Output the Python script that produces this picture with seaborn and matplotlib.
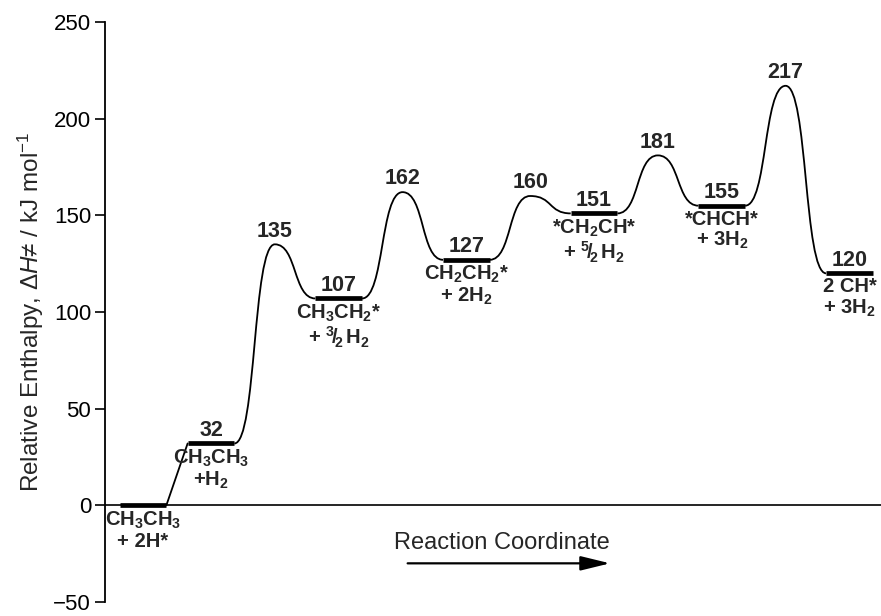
import numpy as np
import pandas as pd
import matplotlib
matplotlib.use("Agg")
import matplotlib.pyplot as plt
import seaborn as sns
from matplotlib.path import Path
from matplotlib.patches import PathPatch

# ---------------- data ----------------
minima_energy = [0, 32, 107, 127, 151, 155, 120]
minima_value_shown = [False, True, True, True, True, True, True]
ts_energy = [135, 162, 160, 181, 217]
minima_labels = [
    "CH$_3$CH$_3$\n+ 2H*",
    "CH$_3$CH$_3$\n+H$_2$",
    "CH$_3$CH$_2$*\n+ $^3\\!/\\!_2\\,$H$_2$",
    "CH$_2$CH$_2$*\n+ 2H$_2$",
    "*CH$_2$CH*\n+ $^5\\!/\\!_2\\,$H$_2$",
    "*CHCH*\n+ 3H$_2$",
    "2 CH*\n+ 3H$_2$",
]
y_ticks = [-50, 0, 50, 100, 150, 200, 250]

# ---------------- layout ----------------
minima_pos = [0.4675, 1, 2, 3, 4, 5, 6]
half_w = 0.183
curve_k = 0.55

sns.set_theme(style="ticks")
plt.rcParams["font.family"] = ["Liberation Sans", "DejaVu Sans"]
plt.rcParams["mathtext.fontset"] = "custom"
plt.rcParams["mathtext.rm"] = "Liberation Sans"
plt.rcParams["mathtext.it"] = "Liberation Sans:italic"
plt.rcParams["mathtext.bf"] = "Liberation Sans:bold"
plt.rcParams["mathtext.default"] = "regular"

fig = plt.figure(figsize=(8.81, 6.16), dpi=100)
ax = fig.add_axes([105 / 881, 14 / 616, 776 / 881, 580 / 616])

# level bars
rows = []
for i, (p, e) in enumerate(zip(minima_pos, minima_energy)):
    rows.append({"state": i, "x": p - half_w, "E": e})
    rows.append({"state": i, "x": p + half_w, "E": e})
bars = pd.DataFrame(rows)
sns.lineplot(data=bars, x="x", y="E", units="state", estimator=None, sort=False,
             color="black", lw=3.4, ax=ax, legend=False, solid_capstyle="butt")

# straight connector from first to second minimum
conn = pd.DataFrame({"x": [minima_pos[0] + half_w, minima_pos[1] - half_w],
                     "E": [minima_energy[0], minima_energy[1]]})
sns.lineplot(data=conn, x="x", y="E", estimator=None, sort=False, color="black",
             lw=1.3, ax=ax, legend=False)

# smooth barrier curves
for j, ts in enumerate(ts_energy):
    a, b = j + 1, j + 2
    x0 = minima_pos[a] + half_w
    x1 = minima_pos[b] - half_w
    xp = (minima_pos[a] + minima_pos[b]) / 2
    e1, e2 = minima_energy[a], minima_energy[b]
    d1, d2 = xp - x0, x1 - xp
    verts = [(x0, e1), (x0 + curve_k * d1, e1), (xp - curve_k * d1, ts), (xp, ts),
             (xp + curve_k * d2, ts), (x1 - curve_k * d2, e2), (x1, e2)]
    codes = [Path.MOVETO] + [Path.CURVE4] * 6
    ax.add_patch(PathPatch(Path(verts, codes), fill=False, lw=1.3, ec="black"))
    ax.annotate(f"{ts}", (xp, ts), xytext=(0, 2), textcoords="offset points",
                ha="center", va="bottom", fontsize=15.5, fontweight="bold")

# labels for minima
for p, e, show, lab in zip(minima_pos, minima_energy, minima_value_shown, minima_labels):
    if show:
        ax.annotate(f"{e}", (p, e), xytext=(0, 2), textcoords="offset points",
                    ha="center", va="bottom", fontsize=15.5, fontweight="bold")
    ax.annotate(lab, (p, e), xytext=(0, -3), textcoords="offset points",
                ha="center", va="top", fontsize=14.5, fontweight="bold",
                multialignment="center", linespacing=1.05)

ax.axhline(0, color="black", lw=1.2, zorder=0)

# reaction coordinate arrow
ax.annotate("", xy=(4.125, -30), xytext=(2.54, -30),
            arrowprops=dict(arrowstyle="-|>,head_length=0.9,head_width=0.22",
                            color="black", lw=1.6, mutation_scale=20,
                            shrinkA=0, shrinkB=0))
ax.text(3.28, -25, "Reaction Coordinate", ha="center", va="bottom", fontsize=17)

ax.set_xlim(0.170, 6.247)
ax.set_ylim(-50, 250)
ax.set_yticks(y_ticks)
ax.set_yticklabels([str(t).replace("-", "\u2212") for t in y_ticks])
ax.set_xticks([])
ax.set_xlabel("")
ax.set_ylabel("Relative Enthalpy, $\\Delta\\mathit{H}$\u2260 / kJ mol$^{-1}$", fontsize=17.5,
              labelpad=5)
ax.tick_params(axis="y", length=7, width=1.2, labelsize=16, pad=3, colors="black")
for s in ["top", "right", "bottom"]:
    ax.spines[s].set_visible(False)
ax.spines["left"].set_linewidth(1.3)
ax.spines["left"].set_color("black")

fig.savefig("out.png", dpi=100)
